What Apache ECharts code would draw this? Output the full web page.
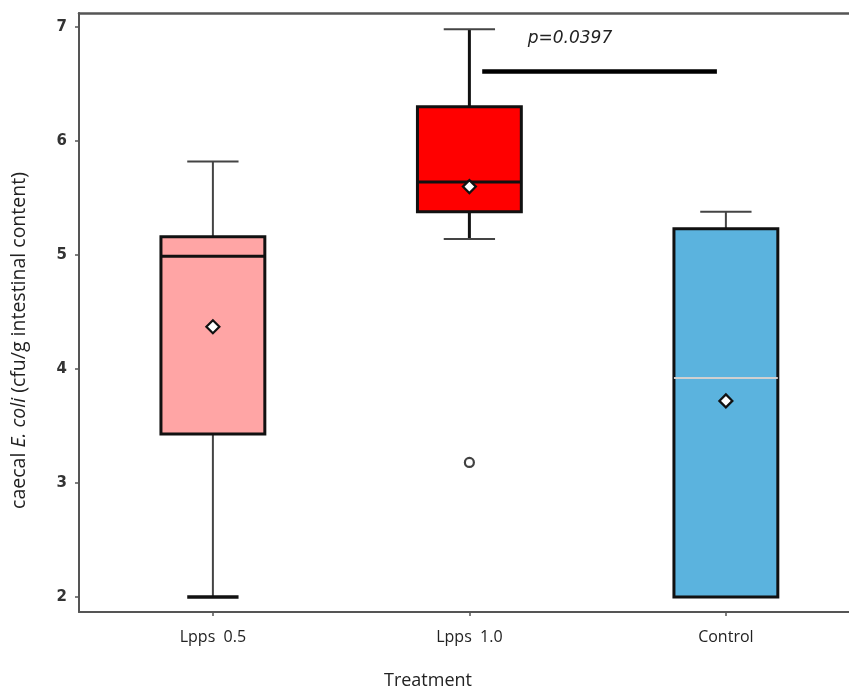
<!DOCTYPE html>
<html>
<head>
<meta charset="utf-8">
<script src="https://cdn.jsdelivr.net/npm/echarts@6/dist/echarts.min.js"></script>
<style>html,body{margin:0;padding:0;background:#fff;}#c{width:849px;height:692px;}</style>
</head>
<body>
<div id="c"></div>
<script>
// ---- data ----
var categories = ['Lpps  0.5', 'Lpps  1.0', 'Control'];
var whiskerLow  = [2.00, 5.14, 2.00];
var q1          = [3.43, 5.38, 2.00];
var median      = [4.99, 5.64, 3.92];
var q3          = [5.16, 6.30, 5.23];
var whiskerHigh = [5.82, 6.98, 5.38];
var means       = [4.37, 5.60, 3.72];
var outliers    = [[1, 3.18]];
var yTicks      = [2, 3, 4, 5, 6, 7];
var sigFrom = 1.05, sigTo = 1.965, sigY = 6.61;
var pText = 'p=0.0397';

// ---- styles ----
var fills = ['#FFA5A5', '#FF0000', '#5BB3DE'];
var medianColors = ['#111', '#111', '#d0d0d0'];
var boxWidth = 0.405, capWidth = 0.2;

var rows = categories.map(function (c, i) {
  return [i, whiskerLow[i], q1[i], median[i], q3[i], whiskerHigh[i], means[i]];
});

var chart = echarts.init(document.getElementById('c'));
chart.setOption({
  animation: false,
  grid: { left: 79, right: 0, top: 13, bottom: 80, containLabel: false, outerBoundsMode: 'none' },
  xAxis: [{
    type: 'value', min: -0.522, max: 2.48,
    splitLine: { show: false },
    axisLine: { show: true, onZero: false, lineStyle: { color: '#555', width: 2 } },
    axisTick: { show: true, customValues: [0, 1, 2], length: 4, lineStyle: { color: '#555', width: 1.5 } },
    axisLabel: {
      customValues: [0, 1, 2], margin: 17,
      formatter: function (v) { return categories[Math.round(v)]; },
      color: '#222', fontSize: 16, fontFamily: 'Open Sans'
    },
    name: 'Treatment', nameLocation: 'middle', nameGap: 60,
    nameTextStyle: { color: '#222', fontSize: 18, fontFamily: 'Open Sans', padding: [0, 72, 0, 0] }
  }, {
    type: 'value', position: 'top', min: -0.522, max: 2.48,
    splitLine: { show: false },
    axisLine: { show: true, onZero: false, lineStyle: { color: '#555', width: 2.5 } },
    axisTick: { show: false }, axisLabel: { show: false }
  }],
  yAxis: {
    type: 'value', min: 1.868, max: 7.123,
    splitLine: { show: false },
    axisLine: { show: true, onZero: false, lineStyle: { color: '#555', width: 2 } },
    axisTick: { show: true, customValues: yTicks, length: 4, lineStyle: { color: '#555', width: 1.5 } },
    axisLabel: {
      customValues: yTicks, margin: 12,
      color: '#333', fontSize: 15, fontWeight: 'bold', fontFamily: 'DejaVu Sans'
    },
    name: '{a|caecal }{i|E. coli}{a| (cfu/g intestinal content)}',
    nameLocation: 'middle', nameRotate: 90, nameGap: 50,
    nameTextStyle: {
      padding: [0, 56, 0, 0],
      rich: {
        a: { color: '#222', fontSize: 19.5, fontFamily: 'Open Sans' },
        i: { color: '#222', fontSize: 19.5, fontFamily: 'Open Sans', fontStyle: 'italic' }
      }
    }
  },
  series: [{
    type: 'custom',
    data: rows,
    encode: { x: 0, y: [1, 2, 3, 4, 5, 6] },
    renderItem: function (params, api) {
      var i = api.value(0);
      var x = api.coord([i, 0])[0];
      var yLow = api.coord([i, api.value(1)])[1];
      var yQ1 = api.coord([i, api.value(2)])[1];
      var yMed = api.coord([i, api.value(3)])[1];
      var yQ3 = api.coord([i, api.value(4)])[1];
      var yHigh = api.coord([i, api.value(5)])[1];
      var yMean = api.coord([i, api.value(6)])[1];
      var hw = api.size([boxWidth, 0])[0] / 2;
      var cw = api.size([capWidth, 0])[0] / 2;
      var d = 6.5;
      var whiskW = i === 1 ? 3 : 2;
      var whiskC = i === 1 ? '#111' : '#444';
      return {
        type: 'group',
        children: [
          { type: 'line', shape: { x1: x, y1: yHigh, x2: x, y2: yQ3 }, style: { stroke: whiskC, lineWidth: whiskW } },
          { type: 'line', shape: { x1: x, y1: yQ1, x2: x, y2: yLow }, style: { stroke: whiskC, lineWidth: whiskW } },
          { type: 'line', shape: { x1: x - cw, y1: yHigh, x2: x + cw, y2: yHigh }, style: { stroke: '#444', lineWidth: 2 } },
          { type: 'line', shape: { x1: x - cw, y1: yLow, x2: x + cw, y2: yLow }, style: { stroke: i === 0 ? '#111' : '#444', lineWidth: i === 0 ? 3.5 : 2 } },
          { type: 'rect', shape: { x: x - hw, y: yQ3, width: hw * 2, height: yQ1 - yQ3 },
            style: { fill: fills[i], stroke: '#111', lineWidth: 3 } },
          { type: 'line', shape: { x1: x - hw, y1: yMed, x2: x + hw, y2: yMed },
            style: { stroke: medianColors[i], lineWidth: i === 2 ? 2 : 3 } },
          { type: 'polygon', shape: { points: [[x, yMean - d], [x + d, yMean], [x, yMean + d], [x - d, yMean]] },
            style: { fill: '#fff', stroke: '#111', lineWidth: 2.2 } }
        ]
      };
    },
    z: 2
  }, {
    type: 'scatter',
    data: outliers,
    symbol: 'circle', symbolSize: 9,
    itemStyle: { color: '#fff', borderColor: '#111', borderWidth: 2.2 },
    z: 3
  }, {
    type: 'custom',
    data: [[sigFrom, sigTo, sigY]],
    encode: { x: [0, 1], y: 2 },
    renderItem: function (params, api) {
      var p1 = api.coord([api.value(0), api.value(2)]);
      var p2 = api.coord([api.value(1), api.value(2)]);
      return { type: 'line', shape: { x1: p1[0], y1: p1[1], x2: p2[0], y2: p2[1] },
        style: { stroke: '#000', lineWidth: 4.5 } };
    },
    z: 3
  }, {
    type: 'custom',
    data: [[1.392, 6.9]],
    encode: { x: 0, y: 1 },
    renderItem: function (params, api) {
      var p = api.coord([api.value(0), api.value(1)]);
      return { type: 'text', x: p[0], y: p[1],
        style: { text: pText, fill: '#222', fontSize: 17, fontStyle: 'italic', fontFamily: 'DejaVu Sans',
          align: 'center', verticalAlign: 'middle' } };
    },
    z: 3
  }]
});
</script>
</body>
</html>
